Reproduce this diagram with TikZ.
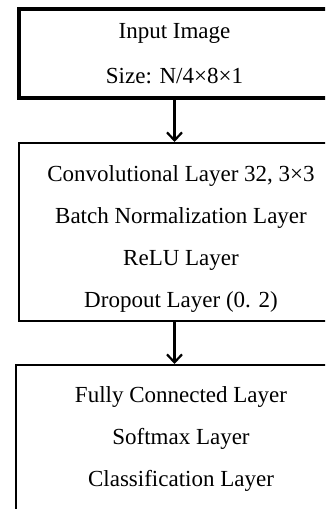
\documentclass[tikz,border=0pt]{standalone}
\usepackage{fontspec}
\setmainfont{Liberation Serif}
\usetikzlibrary{arrows.meta,positioning}

\begin{document}
\begin{tikzpicture}[x=1pt,y=-1pt,
  layerbox/.style={draw, align=center, inner sep=0pt,
    font=\fontsize{23}{42}\selectfont},
  flow/.style={-{Straight Barb[length=8pt,width=15pt]}, line width=2.2pt}]
  \clip (0,0) rectangle (325,509);

  \node[layerbox, line width=4pt, minimum width=311pt, minimum height=88.5pt,
        font=\fontsize{23}{45}\selectfont] (inp) at (174.5,53.25)
  {Input Image\\Size: N/4×8×1};

  \node[layerbox, line width=2pt, minimum width=325pt, minimum height=178pt,
        text height=156.5pt, below=42.5pt of inp, xshift=6.5pt] (conv)
  {Convolutional Layer 32, 3×3\\Batch Normalization Layer\\ReLU Layer\\Dropout Layer (0. 2)};

  \node[layerbox, line width=2pt, minimum width=331pt, minimum height=147pt,
        below=42pt of conv] (outl)
  {Fully Connected Layer\\Softmax Layer\\Classification Layer};

  \draw[flow] (inp.south) -- (inp.south |- conv.north);
  \draw[flow] (inp.south |- conv.south) -- (inp.south |- outl.north);
\end{tikzpicture}
\end{document}
